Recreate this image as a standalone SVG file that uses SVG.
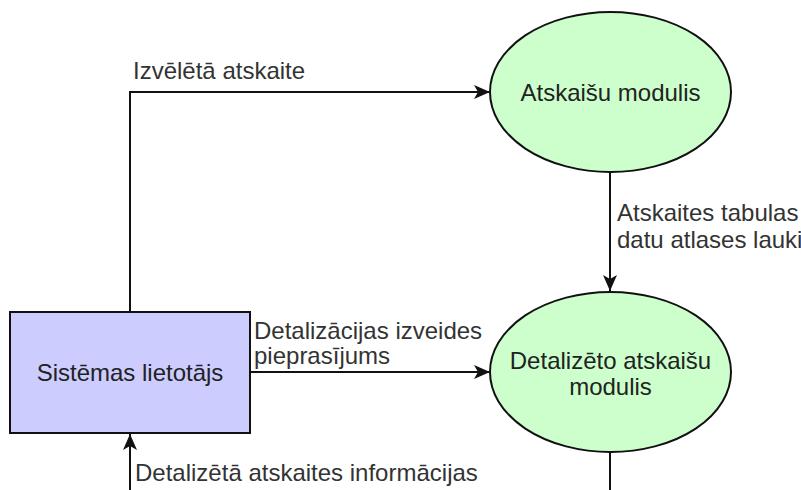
<svg xmlns="http://www.w3.org/2000/svg" width="801" height="490" viewBox="0 0 801 490">
  <style>
    .node-text { font-family: "Liberation Sans", Arial, sans-serif; font-size: 24px; fill: #222; text-anchor: middle; }
    .label { font-family: "Liberation Sans", Arial, sans-serif; font-size: 24px; fill: #333; }
    .edge { fill: none; stroke: #111; stroke-width: 2; }
    .proc { fill: #CCFFCC; stroke: #111; stroke-width: 2; }
    .ext { fill: #CCCCFF; stroke: #111; stroke-width: 2; }
  </style>
  <defs>
    <marker id="arrow" viewBox="0 0 16 14" refX="16" refY="7" markerWidth="16" markerHeight="14" markerUnits="userSpaceOnUse" orient="auto">
      <path d="M0,0 L16,7 L0,14 L4,7 Z" fill="#111"/>
    </marker>
  </defs>
  <rect width="801" height="490" fill="#fff"/>

  <!-- connectors -->
  <g id="connectors">
    <path class="edge" d="M130,312 L130,92 L490,92" marker-end="url(#arrow)"/>
    <path class="edge" d="M610,172 L610,291" marker-end="url(#arrow)"/>
    <path class="edge" d="M250,372 L490,372" marker-end="url(#arrow)"/>
    <path class="edge" d="M130,490 L130,434" marker-end="url(#arrow)"/>
    <path class="edge" d="M610,452 L610,490"/>
  </g>

  <!-- connector labels -->
  <g id="labels">
    <text class="label" x="133" y="79">Izvēlētā atskaite</text>
    <text class="label" x="617" y="221">Atskaites tabulas<tspan x="617" dy="27">datu atlases lauki</tspan></text>
    <text class="label" x="254" y="339">Detalizācijas izveides<tspan x="254" dy="25">pieprasījums</tspan></text>
    <text class="label" x="135" y="481">Detalizētā atskaites informācijas</text>
  </g>

  <g id="atskaisu-modulis">
    <ellipse class="proc" cx="610.5" cy="92" rx="120.5" ry="80"/>
    <text class="node-text" x="610.5" y="101">Atskaišu modulis</text>
  </g>

  <g id="detalizeto-atskaisu-modulis">
    <ellipse class="proc" cx="610.5" cy="372" rx="120.5" ry="80"/>
    <text class="node-text" x="610.5" y="369">Detalizēto atskaišu<tspan x="610.5" dy="26">modulis</tspan></text>
  </g>

  <g id="sistemas-lietotajs">
    <rect class="ext" x="10" y="312" width="240" height="121"/>
    <text class="node-text" x="130" y="381">Sistēmas lietotājs</text>
  </g>
</svg>
